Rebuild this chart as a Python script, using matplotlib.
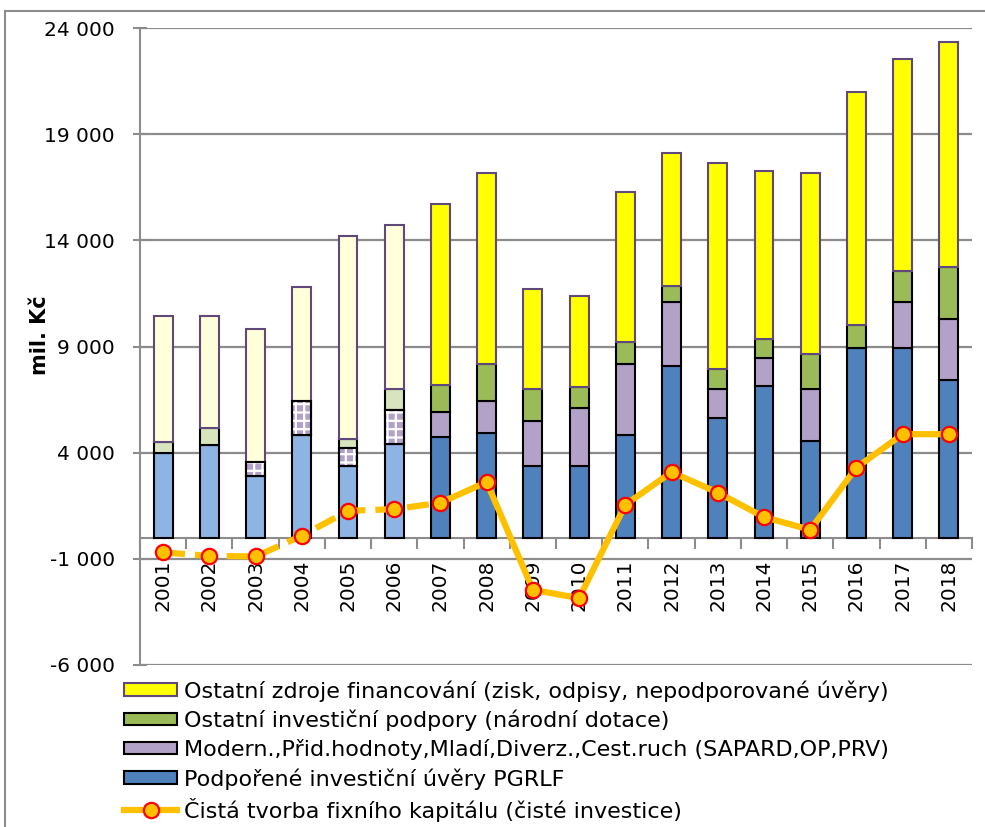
import numpy as np
import matplotlib
matplotlib.use("Agg")
import matplotlib.pyplot as plt
from matplotlib.lines import Line2D
from matplotlib.patches import Patch, Rectangle

# data (mil. Kč)
years = [2001, 2002, 2003, 2004, 2005, 2006, 2007, 2008, 2009,
         2010, 2011, 2012, 2013, 2014, 2015, 2016, 2017, 2018]
pgrlf = [3980, 4340, 2880, 4840, 3380, 4420, 4760, 4920, 3380,
         3380, 4840, 8060, 5630, 7160, 4560, 8950, 8950, 7400]
eu_support = [0, 0, 700, 1615, 860, 1600, 1150, 1490, 2130,
              2715, 3330, 3030, 1365, 1290, 2435, 0, 2135, 2900]
national = [545, 820, 0, 0, 400, 975, 1255, 1760, 1480,
            975, 1065, 780, 955, 895, 1650, 1070, 1490, 2465]
other_sources = [5920, 5290, 6250, 5340, 9570, 7710, 8540, 8990, 4710,
                 4315, 7035, 6260, 9715, 7925, 8520, 10970, 9965, 10580]
net_investment = [-700, -860, -890, 85, 1260, 1340, 1640, 2620, -2460,
                  -2850, 1545, 3085, 2120, 965, 370, 3300, 4870, 4870]

labels = [
    "Ostatní zdroje financování (zisk, odpisy, nepodporované úvěry)",
    "Ostatní investiční podpory (národní dotace)",
    "Modern.,Přid.hodnoty,Mladí,Diverz.,Cest.ruch (SAPARD,OP,PRV)",
    "Podpořené investiční úvěry PGRLF",
    "Čistá tvorba fixního kapitálu (čisté investice)",
]

last_early_year = 2006  # bars up to this year drawn in pale colours

BLUE, BLUE_L = "#4F81BD", "#8EB4E3"
PURPLE = "#B3A2C7"
GREEN, GREEN_L = "#9BBB59", "#D7E4BD"
YELLOW, YELLOW_L = "#FFFF00", "#FFFFD9"
YEDGE = "#60497A"
LINE = "#FFC000"
GRID = "#8C8C8C"

plt.rcParams["font.family"] = ["DejaVu Sans"]
plt.rcParams["hatch.linewidth"] = 1.6

fig = plt.figure(figsize=(9.85, 8.27), dpi=100)
ax = fig.add_axes([140 / 985, 1 - 665 / 827, 832 / 985, 637 / 827])

x = np.arange(len(years))
early = np.array(years) <= last_early_year
w = 0.41

blue_c = [BLUE_L if e else BLUE for e in early]
green_c = [GREEN_L if e else GREEN for e in early]
yel_c = [YELLOW_L if e else YELLOW for e in early]

b1 = np.array(pgrlf)
b2 = b1 + np.array(eu_support)
b3 = b2 + np.array(national)

ax.bar(x, pgrlf, w, color=blue_c, edgecolor="black", linewidth=1.5, zorder=3)
ax.bar(x, eu_support, w, bottom=b1, color=PURPLE, edgecolor="black",
       linewidth=1.5, zorder=3)
# checkered look for the early EU-support segments
for i in np.where(early)[0]:
    if eu_support[i] > 0:
        ax.bar(x[i], eu_support[i], w, bottom=b1[i], facecolor="none",
               edgecolor="white", hatch="++", linewidth=0, zorder=3.5)
        ax.bar(x[i], eu_support[i], w, bottom=b1[i], facecolor="none",
               edgecolor="black", linewidth=1.5, zorder=3.6)
ax.bar(x, national, w, bottom=b2, color=green_c, edgecolor="black",
       linewidth=1.5, zorder=3)
ax.bar(x, other_sources, w, bottom=b3, color=yel_c, edgecolor=YEDGE,
       linewidth=1.5, zorder=3)

# net investment line: dashed through 2007, solid afterwards
split = int(np.where(early)[0][-1]) + 1
ax.plot(x[:split + 1], net_investment[:split + 1], color=LINE, lw=4.5,
        ls=(0, (3.5, 1.6)), zorder=4)
ax.plot(x[split:], net_investment[split:], color=LINE, lw=4.5,
        solid_joinstyle="round", zorder=4)
ax.plot(x, net_investment, ls="none", marker="o", ms=11, mfc=LINE,
        mec="red", mew=1.6, zorder=5)

# axes styling
ax.set_xlim(-0.5, len(years) - 0.5)
ax.set_ylim(-6000, 24000)
yt = np.arange(-6000, 24001, 5000)
ax.set_yticks(yt)
ax.set_yticklabels([f"{v:,}".replace(",", " ") for v in yt], fontsize=14.5)
ax.yaxis.grid(True, color=GRID, lw=1.6, zorder=0)
ax.set_axisbelow(True)
ax.tick_params(axis="y", color=GRID, length=10, width=1.5, pad=13,
               direction="inout")

ax.spines["top"].set_visible(False)
ax.spines["right"].set_visible(False)
ax.spines["left"].set_color(GRID)
ax.spines["left"].set_linewidth(1.5)
ax.spines["bottom"].set_position(("data", 0))
ax.spines["bottom"].set_color(GRID)
ax.spines["bottom"].set_linewidth(1.5)

ax.set_xticks(x)
ax.set_xticklabels([str(y) for y in years], rotation=90, fontsize=14.5)
ax.tick_params(axis="x", length=0, pad=16)
ax.set_xticks(np.arange(-0.5, len(years), 1.0), minor=True)
ax.tick_params(axis="x", which="minor", color=GRID, length=8, width=1.5,
               direction="out")

ax.set_ylabel("mil. Kč", fontsize=15, fontweight="bold",
              family=["Liberation Sans Narrow", "DejaVu Sans"])
ax.yaxis.set_label_coords(-90 / 832, 0.5 + 11 / 637)

# legend
handles = [
    Patch(facecolor=YELLOW, edgecolor=YEDGE, linewidth=1.5),
    Patch(facecolor=GREEN, edgecolor="black", linewidth=1.5),
    Patch(facecolor=PURPLE, edgecolor="black", linewidth=1.5),
    Patch(facecolor=BLUE, edgecolor="black", linewidth=1.5),
    Line2D([0], [0], color=LINE, lw=4.5, marker="o", ms=11, mfc=LINE,
           mec="red", mew=1.6),
]
fig.legend(handles, labels, loc="upper left",
           bbox_to_anchor=(124 / 985, 1 - 680 / 827), frameon=False,
           fontsize=16, handlelength=2.4, handleheight=0.5,
           handletextpad=0.28, labelspacing=0.36, borderaxespad=0,
           borderpad=0)

# outer chart frame
fig.patches.append(Rectangle((5 / 985, -0.2), 1.2, 1.2 - 11 / 827,
                             transform=fig.transFigure, fill=False,
                             edgecolor=GRID, linewidth=1.5))

fig.savefig("out.png", dpi=100)
